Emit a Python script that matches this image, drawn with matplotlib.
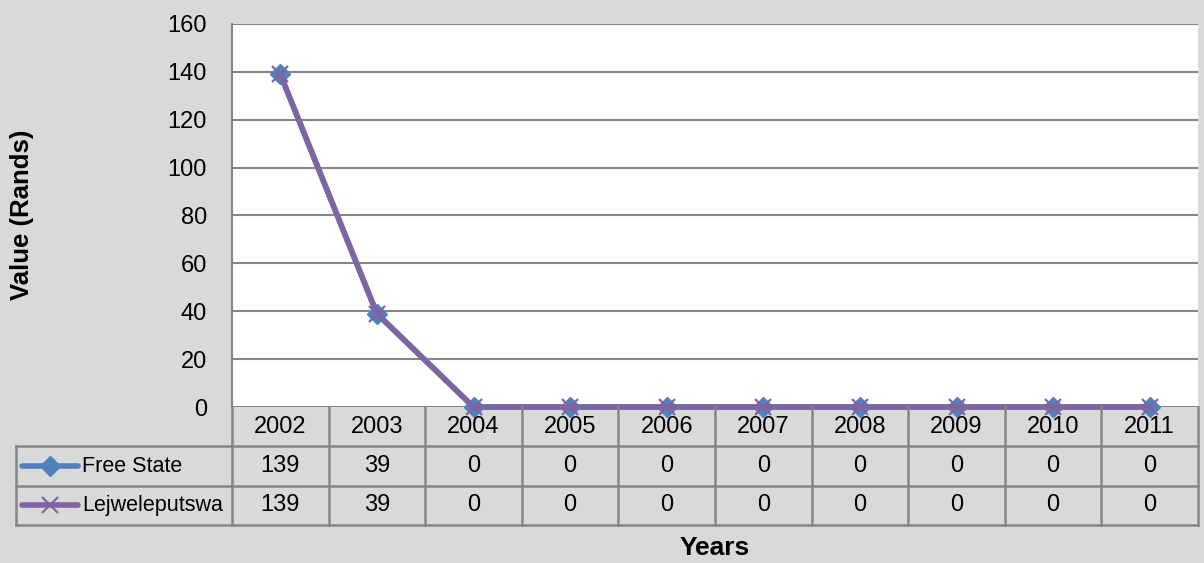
import matplotlib
matplotlib.use("Agg")
import matplotlib.pyplot as plt
from matplotlib.lines import Line2D

years = ["2002", "2003", "2004", "2005", "2006", "2007", "2008", "2009", "2010", "2011"]
free_state = [139, 39, 0, 0, 0, 0, 0, 0, 0, 0]
lejweleputswa = [139, 39, 0, 0, 0, 0, 0, 0, 0, 0]
series_names = ["Free State", "Lejweleputswa"]

BG = "#D9D9D9"
GRID = "#868686"
BLUE = "#4F81BD"
PURPLE = "#8064A2"
plt.rcParams["font.family"] = ["Liberation Sans", "DejaVu Sans"]

W, H = 1204, 563
fig = plt.figure(figsize=(W / 100, H / 100), dpi=100, facecolor=BG)


def rect(x0, y0, x1, y1):
    # pixel box (top-left origin) -> figure fraction
    return [x0 / W, 1 - y1 / H, (x1 - x0) / W, (y1 - y0) / H]


px_left, px_right, px_top, px_bottom = 232, 1198, 24, 407
ax = fig.add_axes(rect(px_left, px_top, px_right, px_bottom))
ax.set_facecolor("white")
x = list(range(len(years)))
ax.plot(x, free_state, color=BLUE, lw=4, marker="D", ms=10, mfc=BLUE, mec=BLUE,
        zorder=3, clip_on=False)
ax.plot(x, lejweleputswa, color=PURPLE, lw=4, marker="x", ms=12, mew=1.6,
        zorder=4, clip_on=False)
ax.set_xlim(-0.5, len(years) - 0.5)
ax.set_ylim(0, 160)
ax.set_yticks(range(0, 161, 20))
ax.set_xticks([])
ax.yaxis.grid(True, color=GRID, lw=1.5)
ax.set_axisbelow(True)
ax.tick_params(axis="y", length=0, pad=18, labelsize=17)
for s in ["top", "right", "bottom"]:
    ax.spines[s].set_visible(False)
ax.spines["left"].set_color(GRID)
ax.spines["left"].set_linewidth(1.5)

fig.text(22 / W, 1 - 215 / H, "Value (Rands)", rotation=90, ha="center",
         va="center", fontsize=18.5, fontweight="bold")

# data table below the axis
tb_left, tb_bottom = 16, 525
colw = (px_right - px_left) / len(years)
left_data = -0.5 - (px_left - tb_left) / colw
tax = fig.add_axes(rect(tb_left, px_bottom, px_right, tb_bottom))
tax.set_xlim(left_data, len(years) - 0.5)
tax.set_ylim(3, 0)
tax.axis("off")
lk = dict(color=GRID, lw=1.8, clip_on=False)
for r in [1, 2, 3]:
    tax.plot([left_data, len(years) - 0.5], [r, r], **lk)
for i in range(len(years) + 1):
    tax.plot([i - 0.5, i - 0.5], [0, 3], **lk)
tax.plot([left_data, left_data], [1, 3], **lk)

for i, yr in enumerate(years):
    tax.text(i, 0.5, yr, ha="center", va="center", fontsize=17)
rows = [free_state, lejweleputswa]
for r, vals in enumerate(rows):
    for i, v in enumerate(vals):
        tax.text(i, r + 1.5, str(v), ha="center", va="center", fontsize=17)

# legend keys inside the row header cells
key_x0 = left_data + (22 - tb_left) / colw
key_x1 = left_data + (78 - tb_left) / colw
key_mid = (key_x0 + key_x1) / 2
styles = [dict(color=BLUE, marker="D", ms=10, mfc=BLUE, mec=BLUE),
          dict(color=PURPLE, marker="x", ms=12, mew=1.6)]
for r, (name, st) in enumerate(zip(series_names, styles)):
    yy = r + 1.5
    tax.add_line(Line2D([key_x0, key_x1], [yy, yy], lw=4, color=st["color"],
                        solid_capstyle="round"))
    tax.plot([key_mid], [yy], ls="none", **st)
    tax.text(left_data + (82 - tb_left) / colw, yy, name, ha="left",
             va="center", fontsize=15.5)

fig.text(715 / W, 1 - 548 / H, "Years", ha="center", va="center",
         fontsize=19, fontweight="bold")

fig.savefig("out.png", dpi=100, facecolor=BG)
